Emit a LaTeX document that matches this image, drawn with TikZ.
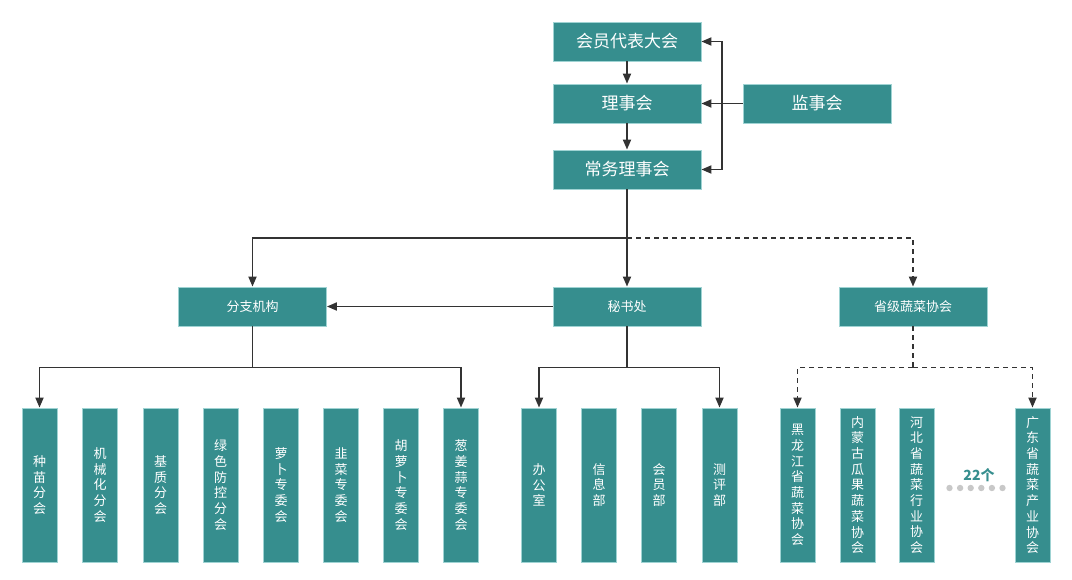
\documentclass[tikz,border=0pt]{standalone}
\usepackage{fontspec}
\setmainfont{Noto Sans CJK SC}
\usetikzlibrary{arrows.meta}
\definecolor{boxfill}{HTML}{368E8E}
\definecolor{boxline}{HTML}{9FD3D3}
\definecolor{linec}{HTML}{333333}
\definecolor{dotc}{HTML}{C8C8C8}
\tikzset{
  topbox/.style={fill=boxfill,draw=boxline,line width=0.8pt,minimum width=148pt,minimum height=39pt,inner sep=0pt,text=white,font=\fontsize{17}{20}\selectfont},
  midbox/.style={fill=boxfill,draw=boxline,line width=0.8pt,minimum width=148pt,minimum height=39pt,inner sep=0pt,text=white,font=\fontsize{13}{16}\selectfont},
  vbox/.style={fill=boxfill,draw=boxline,line width=0.8pt,minimum width=35pt,minimum height=154pt,inner sep=0pt,text=white,align=center,font=\fontsize{13}{15.7}\selectfont},
  conn/.style={draw=linec,line width=1.8pt,-{Triangle[length=10pt,width=8pt]}},
  plainconn/.style={draw=linec,line width=1.8pt},
  dashconn/.style={draw=linec,line width=1.8pt,dash pattern=on 5pt off 4pt},
}
\begin{document}
\begin{tikzpicture}[x=1pt,y=-1pt]
\useasboundingbox (0,0) rectangle (1072,579);
% top
\node[topbox] (hui) at (627,41.5) {会员代表大会};
\node[topbox] (li) at (627,103.5) {理事会};
\node[topbox] (chang) at (627,169.5) {常务理事会};
\node[topbox] (jian) at (817,103.5) {监事会};
% middle
\node[midbox] (fen) at (252.5,306.5) {分支机构};
\node[midbox] (mi) at (627,306.5) {秘书处};
\node[midbox] (sheng) at (913,306.5) {省级蔬菜协会};
% bottom left
\node[vbox] (b1) at (39.5,485) {种\\苗\\分\\会};
\node[vbox] (b2) at (100,485) {机\\械\\化\\分\\会};
\node[vbox] (b3) at (160.5,485) {基\\质\\分\\会};
\node[vbox] (b4) at (220.5,485) {绿\\色\\防\\控\\分\\会};
\node[vbox] (b5) at (281,485) {萝\\卜\\专\\委\\会};
\node[vbox] (b6) at (341,485) {韭\\菜\\专\\委\\会};
\node[vbox] (b7) at (401,485) {胡\\萝\\卜\\专\\委\\会};
\node[vbox] (b8) at (461,485) {葱\\姜\\蒜\\专\\委\\会};
% bottom middle
\node[vbox] (c1) at (539,485) {办\\公\\室};
\node[vbox] (c2) at (599,485) {信\\息\\部};
\node[vbox] (c3) at (659,485) {会\\员\\部};
\node[vbox] (c4) at (719.5,485) {测\\评\\部};
% bottom right
\node[vbox] (d1) at (797.5,485) {黑\\龙\\江\\省\\蔬\\菜\\协\\会};
\node[vbox] (d2) at (857.5,485) {内\\蒙\\古\\瓜\\果\\蔬\\菜\\协\\会};
\node[vbox] (d3) at (916.5,485) {河\\北\\省\\蔬\\菜\\行\\业\\协\\会};
\node[vbox] (d4) at (1032.5,485) {广\\东\\省\\蔬\\菜\\产\\业\\协\\会};
\node[text=boxfill,font=\fontsize{14}{16}\selectfont\bfseries,inner sep=0pt] (n22) at (979,475) {22个};
\foreach \i in {0,...,5}{
  \fill[dotc] (949.5+\i*10.6,488) circle (3.2);
}
% top connectors
\draw[conn] (hui) -- (li);
\draw[conn] (li) -- (chang);
\coordinate (j) at (722,103.5);
\draw[conn] (jian.west) -- (li.east);
\draw[conn] (j) |- (hui.east);
\draw[conn] (j) |- (chang.east);
% middle connectors
\coordinate (m1) at (627,238);
\draw[conn] (chang) -- (mi);
\draw[conn] (m1) -| (fen.north);
\draw[dashconn,-{Triangle[length=10pt,width=8pt]}] (m1) -| (sheng.north);
\draw[conn] (mi.west) -- (fen.east);
% bottom connectors
\coordinate (fb) at (252.5,367.5);
\draw[plainconn] (fen.south) -- (fb);
\draw[conn] (fb) -| (b1.north);
\draw[conn] (fb) -| (b8.north);
\coordinate (mb) at (627,367.5);
\draw[plainconn] (mi.south) -- (mb);
\draw[conn] (mb) -| (c1.north);
\draw[conn] (mb) -| (c4.north);
\coordinate (sb) at (913,367.5);
\draw[dashconn] (sheng.south) -- (sb);
\draw[dashconn,-{Triangle[length=10pt,width=8pt]}] (sb) -| (d1.north);
\draw[dashconn,-{Triangle[length=10pt,width=8pt]}] (sb) -| (d4.north);
\end{tikzpicture}
\end{document}
